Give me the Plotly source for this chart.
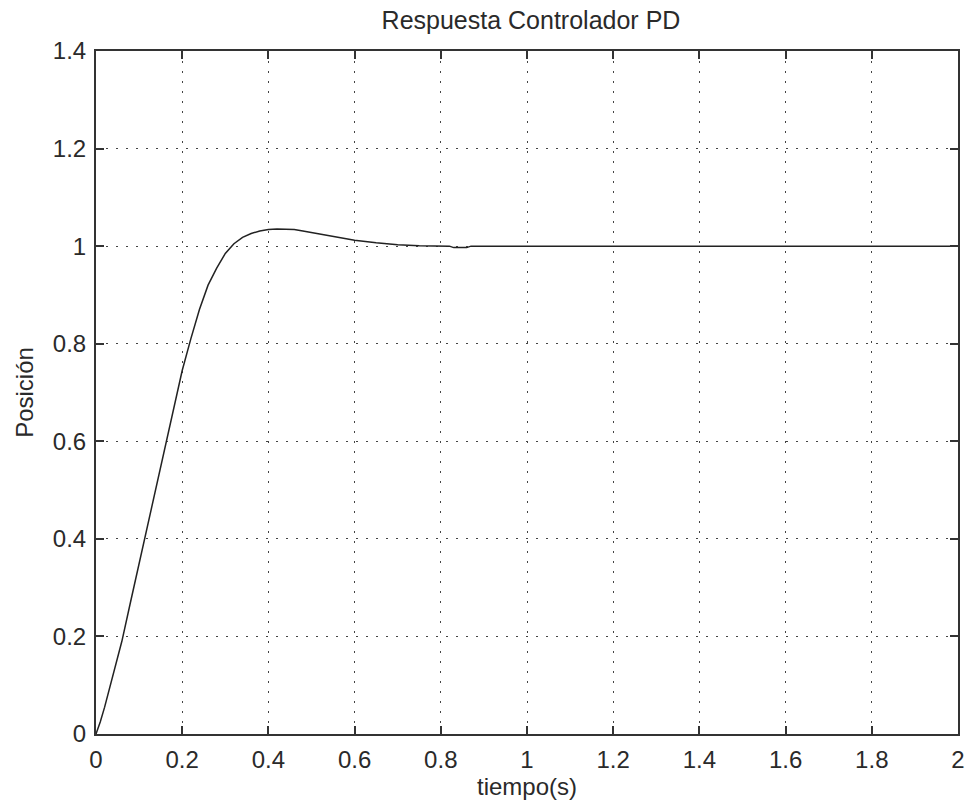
import plotly.graph_objects as go

t = [0, 0.01, 0.02, 0.04, 0.06, 0.08, 0.10, 0.12, 0.14, 0.16, 0.18, 0.20, 0.22, 0.24, 0.26,
     0.28, 0.30, 0.32, 0.34, 0.36, 0.38, 0.40, 0.42, 0.44, 0.46, 0.48, 0.50, 0.55, 0.60,
     0.65, 0.70, 0.75, 0.80, 0.82, 0.83, 0.86, 0.87, 0.90, 1.0, 1.2, 1.4, 1.6, 1.8, 2.0]
pos = [0, 0.025, 0.055, 0.12, 0.19, 0.27, 0.35, 0.43, 0.51, 0.59, 0.67, 0.745, 0.81, 0.87, 0.92,
       0.955, 0.985, 1.005, 1.018, 1.026, 1.031, 1.034, 1.035, 1.035, 1.034, 1.031, 1.028, 1.019, 1.012,
       1.007, 1.003, 1.001, 1.0, 1.0, 0.997, 0.997, 1.0, 1.0, 1.0, 1.0, 1.0, 1.0, 1.0, 1.0]

x_ticks = [0, 0.2, 0.4, 0.6, 0.8, 1, 1.2, 1.4, 1.6, 1.8, 2]
x_labels = ["0", "0.2", "0.4", "0.6", "0.8", "1", "1.2", "1.4", "1.6", "1.8", "2"]
y_ticks = [0, 0.2, 0.4, 0.6, 0.8, 1, 1.2, 1.4]
y_labels = ["0", "0.2", "0.4", "0.6", "0.8", "1", "1.2", "1.4"]

fig = go.Figure()
fig.add_trace(go.Scatter(x=t, y=pos, mode="lines", line=dict(color="#222222", width=1.5),
                         showlegend=False))

font = "Liberation Sans, Arial, sans-serif"
txt = "#2a2a2a"
axis_common = dict(
    showline=True, linecolor="#333333", linewidth=2, mirror="ticks",
    ticks="inside", ticklen=8, tickwidth=1.5, tickcolor="#333333",
    showgrid=True, gridcolor="#444444", gridwidth=1, griddash="2px,8px",
    zeroline=False, tickfont=dict(family=font, size=24, color=txt),
)
fig.update_xaxes(range=[0, 2], tickvals=x_ticks, ticktext=x_labels, ticklabelstandoff=3,
                 title=dict(text="tiempo(s)", font=dict(family=font, size=24, color=txt), standoff=1),
                 **axis_common)
fig.update_yaxes(range=[0, 1.4], tickvals=y_ticks, ticktext=y_labels, ticklabelstandoff=3,
                 title=dict(text="Posición", font=dict(family=font, size=24, color=txt), standoff=12),
                 **axis_common)

fig.update_layout(
    width=975, height=807,
    margin=dict(l=96, r=10, t=51, b=73),
    paper_bgcolor="white", plot_bgcolor="white",
    title=dict(text="Respuesta Controlador PD", x=0.5446, xanchor="center", y=0.975, yanchor="middle",
               font=dict(family=font, size=25, color=txt)),
)

fig.write_html("out.html")
